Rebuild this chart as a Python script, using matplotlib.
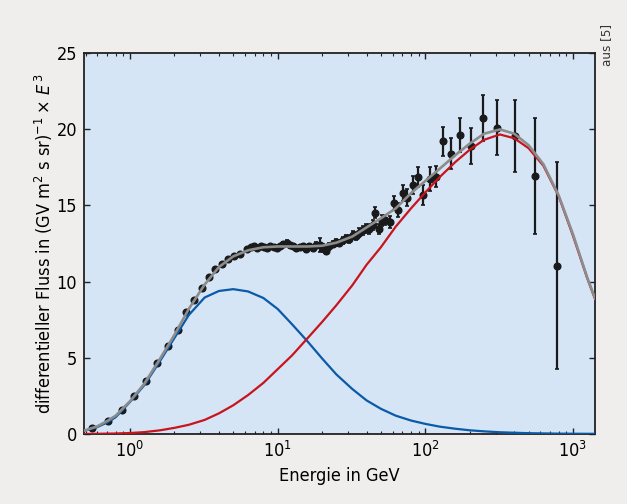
import matplotlib
matplotlib.use("Agg")
import matplotlib.pyplot as plt
from matplotlib.ticker import LogLocator, NullFormatter

plt.rcParams["font.family"] = ["DejaVu Sans"]
plt.rcParams["font.stretch"] = "condensed"
plt.rcParams["mathtext.fontset"] = "custom"
plt.rcParams["mathtext.rm"] = "DejaVu Sans:stretch=condensed"
plt.rcParams["mathtext.it"] = "DejaVu Sans:italic:stretch=condensed"

# model curves
curve_e = [0.49, 0.6, 0.7, 0.8, 1.0, 1.25, 1.6, 2.0, 2.5, 3.2, 4.0, 5.0, 6.3, 8.0,
           10, 12.5, 16, 20, 25, 32, 40, 50, 63, 80, 100, 125, 160, 200, 250,
           320, 400, 500, 630, 800, 1000, 1250, 1410]
blue_curve = [0.2, 0.45, 0.75, 1.1, 2.1, 3.2, 4.8, 6.3, 7.8, 8.95, 9.38, 9.5,
              9.35, 8.92, 8.2, 7.2, 6.05, 4.95, 3.9, 2.95, 2.2, 1.65, 1.2, 0.88,
              0.66, 0.48, 0.34, 0.24, 0.17, 0.11, 0.08, 0.05, 0.035, 0.02, 0.015,
              0.01, 0.01]
red_curve = [0.0, 0.01, 0.02, 0.03, 0.06, 0.12, 0.24, 0.4, 0.6, 0.92, 1.35, 1.88,
             2.55, 3.35, 4.25, 5.15, 6.3, 7.35, 8.45, 9.75, 11.1, 12.25, 13.6,
             14.8, 15.85, 16.85, 17.85, 18.65, 19.3, 19.65, 19.4, 18.75, 17.6,
             15.6, 13.0, 10.2, 8.85]
total_curve = [0.22, 0.5, 0.85, 1.2, 2.15, 3.3, 4.95, 6.5, 8.2, 9.8, 10.95, 11.65,
               12.05, 12.25, 12.3, 12.3, 12.3, 12.35, 12.55, 12.95, 13.55, 14.15,
               14.8, 15.8, 16.6, 17.4, 18.3, 19.05, 19.7, 19.98, 19.7, 18.95,
               17.7, 15.65, 13.1, 10.25, 8.9]

# measured points
data_e = [0.556, 0.71, 0.887, 1.07, 1.29, 1.53, 1.80, 2.10, 2.39, 2.72, 3.07, 3.42,
          3.78, 4.18, 4.61, 5.06, 5.55, 6.17, 6.59,
          6.95, 7.3, 7.7, 8.1, 8.5, 8.9, 9.4, 9.9, 10.4, 10.9, 11.5, 12.1, 12.7,
          13.4, 14.1, 14.8, 15.6, 16.4, 17.3, 18.2, 19.2, 20.2, 21.3, 22.4, 23.6,
          24.9, 26.2, 27.6, 29.1, 30.6, 32.3, 34.0, 35.8, 37.7, 39.7, 41.8, 44.0,
          45.6, 48.4, 50.5, 53.3, 57.6, 61.5, 65.7, 70.9, 75.6, 81.9, 88.9, 96.8,
          107.9, 118, 132, 149, 172, 204, 247, 307, 402, 553, 778]
data_y = [0.37, 0.87, 1.57, 2.51, 3.48, 4.63, 5.77, 6.82, 8.0, 8.81, 9.56, 10.28,
          10.81, 11.17, 11.46, 11.70, 11.81, 12.12, 12.29,
          12.3, 12.2, 12.35, 12.25, 12.2, 12.3, 12.25, 12.2, 12.3, 12.45, 12.55,
          12.4, 12.3, 12.2, 12.25, 12.3, 12.15, 12.3, 12.2, 12.4, 12.4, 12.2,
          12.0, 12.3, 12.45, 12.6, 12.5, 12.7, 12.85, 12.8, 13.05, 13.0, 13.2,
          13.35, 13.5, 13.45, 13.7,
          14.52, 13.45, 14.0, 14.04, 13.93, 15.14, 14.7, 15.83, 15.5, 16.32, 16.84,
          15.68, 16.71, 16.88, 19.2, 18.39, 19.6, 18.88, 20.75, 20.1, 19.55, 16.9,
          11.05]
data_err = [0.05] * 19 + [
    0.1, 0.1, 0.1, 0.1, 0.1, 0.12, 0.12, 0.12, 0.12, 0.15, 0.2, 0.15, 0.15,
    0.15, 0.15, 0.15, 0.18, 0.18, 0.18, 0.2, 0.45, 0.25, 0.2, 0.2, 0.2, 0.2,
    0.2, 0.22, 0.22, 0.25, 0.25, 0.25, 0.28, 0.28, 0.3, 0.3, 0.32,
    0.35, 0.35, 0.35, 0.35, 0.4, 0.44, 0.45, 0.52, 0.55, 0.6, 0.66, 0.63,
    0.79, 0.68, 0.94, 1.0, 1.1, 1.2, 1.5, 1.83, 2.38, 3.8, 6.8]

fig = plt.figure(figsize=(6.27, 5.04), dpi=100, facecolor="#efeeec")
ax = fig.add_axes([0.134, 0.139, 0.815, 0.756])
ax.set_facecolor("#d5e5f6")

ax.errorbar(data_e, data_y, yerr=data_err, fmt="o", color="#1a1a1a", ms=4.8,
            elinewidth=1.6, capsize=1.5, capthick=1.2, zorder=2)
ax.plot(curve_e, blue_curve, color="#0a5aa8", lw=1.6, zorder=3)
ax.plot(curve_e, red_curve, color="#c8141c", lw=1.6, zorder=3)
ax.plot(curve_e, total_curve, color="#8c8c8c", lw=1.9, zorder=4)

ax.set_xscale("log")
ax.set_xlim(0.488, 1410)
ax.set_ylim(0, 25)
ax.set_yticks([0, 5, 10, 15, 20, 25])
ax.xaxis.set_minor_locator(LogLocator(base=10, subs=range(2, 10), numticks=20))
ax.xaxis.set_minor_formatter(NullFormatter())
ax.tick_params(which="both", direction="in", top=True, right=True,
               labelsize=13, color="#222222", pad=5)
ax.tick_params(which="major", length=4, width=1)
ax.tick_params(which="minor", length=2.5, width=0.8)
for sp in ax.spines.values():
    sp.set_linewidth(1.3)
    sp.set_color("#222222")

ax.set_xlabel("Energie in GeV", fontsize=13, labelpad=4)
ax.set_ylabel(r"differentieller Fluss in (GV m$^2$ s sr)$^{-1}\times\,\mathit{E}^{\,3}$",
              fontsize=13, labelpad=1)

fig.text(0.968, 0.911, "aus [5]", rotation=90, fontsize=9.5, color="#333333",
         ha="center", va="center")

fig.savefig("out.png", dpi=100, facecolor=fig.get_facecolor())
